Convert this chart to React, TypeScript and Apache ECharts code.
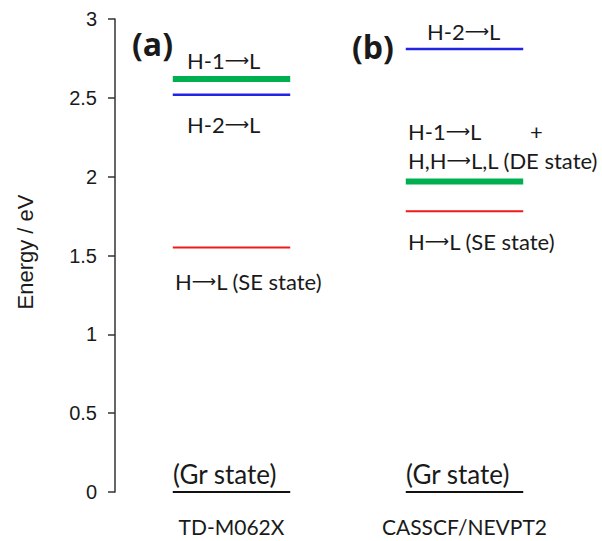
import React, { useEffect, useRef } from "react";
import * as echarts from "echarts";

// Methods (x categories)
const methods = ["TD-M062X", "CASSCF/NEVPT2"];
// Energies (eV) of each state for each method
const groundState = [0, 0];
const hToL = [1.55, 1.78]; // SE state
const h1ToL = [2.62, 1.97]; // H-1→L (a) / H-1→L + H,H→L,L DE state (b)
const h2ToL = [2.52, 2.81];
// y-axis ticks
const yTicks = [0, 0.5, 1, 1.5, 2, 2.5, 3];

// annotation texts ({a|⟶} marks the arrow)
const panelLabels = ["(a)", "(b)"];
const stateTexts = {
  h1a: "H-1{a|\u27f6}L",
  h2a: "H-2{a|\u27f6}L",
  sea: "H{a|\u27f6}L (SE state)",
  gra: "(Gr state)",
  h2b: "H-2{a|\u27f6}L",
  h1b: "H-1{a|\u27f6}L",
  plus: "+",
  deb: "H,H{a|\u27f6}L,L (DE state)",
  seb: "H{a|\u27f6}L (SE state)",
  grb: "(Gr state)",
};

const LABEL_FONT = "Lato, 'Open Sans', sans-serif";
const TXT = "#1a1a1a";

function levelSeries(name: string, values: number[], color: string, width: number) {
  return {
    type: "custom",
    name,
    data: values.map((v, i) => [i, v]),
    renderItem: (params: any, api: any) => {
      const c = api.coord([api.value(0), api.value(1)]);
      const bw = api.size([1, 0])[0];
      const half = bw * 0.252;
      return {
        type: "line",
        shape: { x1: c[0] - half, y1: c[1], x2: c[0] + half, y2: c[1] },
        style: { stroke: color, lineWidth: width },
      };
    },
  };
}

export default function App() {
  const ref = useRef<HTMLDivElement>(null);
  useEffect(() => {
    document.body.style.margin = "0";
    const chart = echarts.init(ref.current!, null, { renderer: "svg" });
    const txt = (text: string, x: number, y: number, size = 22, family = LABEL_FONT, bold = false) => ({
      type: "text",
      x,
      y,
      style: {
        text,
        fill: TXT,
        fontSize: size,
        fontFamily: family,
        fontWeight: bold ? "bold" : "normal",
        align: "left",
        verticalAlign: "middle",
        rich: {
          a: {
            fontFamily: "'DejaVu Sans', sans-serif",
            fontSize: 17,
            fill: TXT,
          },
        },
      },
    });
    chart.setOption({
      animation: false,
      backgroundColor: "#ffffff",
      grid: {
        left: 115,
        right: 21,
        top: 19,
        bottom: 49,
        containLabel: false,
        outerBoundsMode: "none",
      },
      xAxis: {
        type: "category",
        data: methods,
        axisLine: { show: false },
        axisTick: { show: false },
        axisLabel: {
          margin: 24,
          color: TXT,
          fontSize: 21,
          fontFamily: LABEL_FONT,
        },
        splitLine: { show: false },
      },
      yAxis: {
        type: "value",
        min: yTicks[0],
        max: yTicks[yTicks.length - 1],
        interval: 0.5,
        axisLine: { show: true, lineStyle: { color: "#333", width: 1.5 } },
        axisTick: { show: true, length: 7, lineStyle: { color: "#333", width: 1.5 } },
        axisLabel: {
          margin: 18,
          color: TXT,
          fontSize: 20,
          fontFamily: "'Liberation Sans', Arial, sans-serif",
          formatter: (v: number) => String(v),
        },
        splitLine: { show: false },
      },
      series: [
        levelSeries("Gr state", groundState, "#111111", 2),
        levelSeries("H→L (SE)", hToL, "#ee1b1b", 2),
        levelSeries("H-2→L", h2ToL, "#2323e6", 2.5),
        levelSeries("H-1→L", h1ToL, "#00b050", 6),
      ],
      graphic: [
        {
          type: "text",
          x: 25,
          y: 252,
          rotation: Math.PI / 2,
          style: {
            text: "Energy / eV",
            fill: TXT,
            fontSize: 22,
            fontFamily: "'Liberation Sans', Arial, sans-serif",
            align: "center",
            verticalAlign: "middle",
          },
        },
        txt(panelLabels[0], 132, 43, 32, "'Open Sans', sans-serif", true),
        txt(panelLabels[1], 352, 46, 32, "'Open Sans', sans-serif", true),
        txt(stateTexts.h1a, 187, 60),
        txt(stateTexts.h2a, 187, 124),
        txt(stateTexts.sea, 175, 281),
        txt(stateTexts.gra, 173, 474, 26),
        txt(stateTexts.h2b, 427, 31),
        txt(stateTexts.h1b, 408, 131),
        txt(stateTexts.plus, 530, 131),
        txt(stateTexts.deb, 408, 160, 22),
        txt(stateTexts.seb, 408, 241),
        txt(stateTexts.grb, 406, 474, 26),
      ],
    });
    return () => chart.dispose();
  }, []);
  return <div ref={ref} style={{ width: 602, height: 541 }} />;
}
